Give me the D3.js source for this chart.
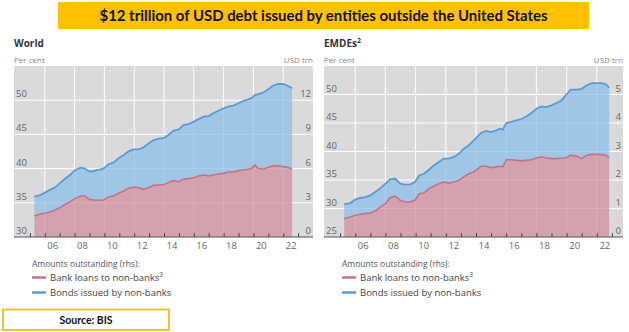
<!DOCTYPE html>
<html><head><meta charset="utf-8">
<script src="https://cdn.jsdelivr.net/npm/d3@7"></script>
<style>body{margin:0;background:#fff;} svg{display:block;}</style>
</head><body>
<script>
const titleText = "$12 trillion of USD debt issued by entities outside the United States";
const sourceText = "Source: BIS";
const legendHeader = "Amounts outstanding (rhs):";
const seriesNames = ["Bank loans to non-banks", "Bonds issued by non-banks"];
const seriesSup = ["3", ""];

// World (USD trn)
const worldDates = [2005.3,2005.7,2006.0,2006.4,2006.7,2007.05,2007.4,2007.7,2008.05,2008.4,2008.7,2009.0,2009.3,2009.6,2009.95,2010.3,2010.6,2010.95,2011.3,2011.6,2011.95,2012.3,2012.6,2012.95,2013.3,2013.6,2014.0,2014.3,2014.65,2015.0,2015.3,2015.65,2016.0,2016.3,2016.65,2017.0,2017.3,2017.65,2018.0,2018.3,2018.65,2019.0,2019.3,2019.65,2019.9,2020.1,2020.3,2020.65,2021.0,2021.3,2021.65,2022.0,2022.3,2022.6];
const worldLoans = [1.84,2.02,2.08,2.22,2.37,2.60,2.89,3.10,3.39,3.60,3.60,3.30,3.25,3.22,3.25,3.54,3.60,3.83,4.04,4.27,4.36,4.33,4.18,4.33,4.53,4.56,4.60,4.77,4.94,4.85,5.06,5.12,5.20,5.35,5.44,5.35,5.44,5.53,5.58,5.70,5.70,5.82,5.88,5.94,6.02,6.32,6.02,5.94,6.11,6.23,6.26,6.17,6.11,5.96];
const worldBonds = [1.70,1.66,1.81,1.96,1.99,2.17,2.26,2.34,2.49,2.48,2.40,2.43,2.54,2.66,2.77,2.86,2.92,3.07,3.15,3.22,3.33,3.36,3.66,3.87,3.97,4.04,4.10,4.18,4.39,4.59,4.76,4.79,4.92,4.97,5.12,5.26,5.41,5.55,5.71,5.73,5.82,5.91,6.05,6.14,6.18,6.14,6.49,6.72,6.84,7.04,7.16,7.25,7.16,7.08];

// EMDEs (USD trn)
const emdeDates = [2005.27,2005.67,2006.0,2006.33,2006.66,2007.0,2007.32,2007.65,2008.0,2008.3,2008.64,2008.97,2009.3,2009.63,2009.96,2010.24,2010.55,2010.88,2011.2,2011.54,2011.87,2012.2,2012.53,2012.86,2013.19,2013.52,2013.85,2014.33,2014.67,2015.0,2015.33,2015.6,2015.78,2016.0,2016.33,2016.67,2017.0,2017.33,2017.67,2018.0,2018.33,2018.67,2019.0,2019.33,2019.67,2020.0,2020.27,2020.67,2021.0,2021.33,2021.67,2022.0,2022.33,2022.6,2022.82];
const emdeLoans = [0.64,0.70,0.76,0.80,0.82,0.84,0.91,1.05,1.17,1.38,1.43,1.29,1.23,1.23,1.29,1.52,1.54,1.70,1.78,1.87,1.93,1.89,1.93,1.99,2.11,2.22,2.28,2.48,2.48,2.43,2.46,2.48,2.46,2.71,2.71,2.69,2.67,2.69,2.71,2.77,2.81,2.77,2.75,2.75,2.77,2.78,2.87,2.83,2.75,2.87,2.90,2.90,2.89,2.87,2.78];
const emdeBonds = [0.51,0.49,0.55,0.57,0.58,0.62,0.67,0.65,0.70,0.64,0.62,0.58,0.61,0.62,0.64,0.64,0.68,0.66,0.73,0.76,0.82,0.86,0.88,0.93,0.99,1.00,1.11,1.17,1.24,1.25,1.28,1.32,1.31,1.29,1.33,1.40,1.47,1.54,1.64,1.73,1.77,1.79,1.87,1.95,2.03,2.23,2.30,2.34,2.45,2.45,2.50,2.50,2.51,2.49,2.46];

const worldLeftTicks = [30,35,40,45,50];
const worldRightTicks = [0,3,6,9,12];
const emdeLeftTicks = [25,30,35,40,45,50];
const emdeRightTicks = [0,1,2,3,4,5];
const yearTicks = [2005,2006,2007,2008,2009,2010,2011,2012,2013,2014,2015,2016,2017,2018,2019,2020,2021,2022,2023];
const yearLabels = [2006,2008,2010,2012,2014,2016,2018,2020,2022];

const W = 629, H = 332;
const svg = d3.select("body").append("svg").attr("width", W).attr("height", H);
svg.append("rect").attr("width", W).attr("height", H).attr("fill", "#fff");

// Title banner
svg.append("rect").attr("x", 58).attr("y", 2).attr("width", 531).attr("height", 27).attr("fill", "#FFC000");
svg.append("text").attr("x", 323.5).attr("y", 21).attr("text-anchor", "middle")
  .attr("font-family", "Lato, 'Liberation Sans', sans-serif").attr("font-weight", "bold")
  .attr("font-size", 15).attr("fill", "#111")
  .attr("textLength", 448).attr("lengthAdjust", "spacingAndGlyphs").text(titleText);

const colors = {
  bg: "#dadada", loanFill: "rgba(209,140,158,0.72)", loanLine: "#c27488",
  bondFill: "rgba(138,188,232,0.72)", bondLine: "#5b9bd5", tick: "#666", axis: "#555"
};
const FONT = "'Open Sans', 'DejaVu Sans', sans-serif";

const panels = [
  { name: "World", sup: "", dates: worldDates, loans: worldLoans, bonds: worldBonds,
    left: 14, right: 313, xRange: [15, 313], lDom: [30, 55], rDom: [0, 15],
    lTicks: worldLeftTicks, rTicks: worldRightTicks },
  { name: "EMDEs", sup: "2", dates: emdeDates, loans: emdeLoans, bonds: emdeBonds,
    left: 324, right: 623, xRange: [325, 627], lDom: [25, 55], rDom: [0, 6],
    lTicks: emdeLeftTicks, rTicks: emdeRightTicks }
];
const plotTop = 66, plotBottom = 237;

panels.forEach((p, pi) => {
  const g = svg.append("g");
  const x = d3.scaleLinear().domain([2004, 2024]).range(p.xRange);
  const yL = d3.scaleLinear().domain(p.lDom).range([plotBottom, plotTop]);
  const yR = d3.scaleLinear().domain(p.rDom).range([plotBottom, plotTop]);

  const t = g.append("text").attr("x", p.left).attr("y", 47).attr("font-family", FONT)
    .attr("font-weight", "bold").attr("font-size", 10).attr("fill", "#333").text(p.name);
  if (p.sup) t.append("tspan").attr("dy", -4).attr("font-size", 7).text(p.sup);

  g.append("text").attr("x", p.left).attr("y", 63).attr("font-family", FONT)
    .attr("font-size", 8).attr("fill", "#888").text("Per cent");
  g.append("text").attr("x", p.right).attr("y", 63).attr("text-anchor", "end").attr("font-family", FONT)
    .attr("font-size", 8).attr("fill", "#888").text("USD trn");

  const cid = "clip" + pi;
  g.append("clipPath").attr("id", cid).append("rect")
    .attr("x", p.left).attr("y", plotTop).attr("width", p.right - p.left).attr("height", plotBottom - plotTop);

  g.append("rect").attr("x", p.left).attr("y", plotTop).attr("width", p.right - p.left)
    .attr("height", plotBottom - plotTop).attr("fill", colors.bg);

  const grid = g.append("g").attr("clip-path", `url(#${cid})`);
  grid.selectAll("line.h").data(p.lTicks.slice(1)).join("line")
    .attr("x1", p.left).attr("x2", p.right).attr("y1", d => yL(d)).attr("y2", d => yL(d))
    .attr("stroke", "#fff").attr("stroke-width", 1);
  grid.selectAll("line.v").data(yearLabels).join("line")
    .attr("x1", d => x(d)).attr("x2", d => x(d)).attr("y1", plotTop).attr("y2", plotBottom)
    .attr("stroke", "#fff").attr("stroke-width", 1);

  const rows = p.dates.map((d, i) => ({ date: d, loans: p.loans[i], bonds: p.bonds[i] }));
  const stack = d3.stack().keys(["loans", "bonds"])(rows);
  const area = d3.area().x(d => x(d.data.date)).y0(d => yR(d[0])).y1(d => yR(d[1]));
  const line = d3.line().x(d => x(d.data.date)).y(d => yR(d[1]));

  const plot = g.append("g").attr("clip-path", `url(#${cid})`);
  plot.append("path").datum(stack[0]).attr("d", area).attr("fill", colors.loanFill);
  plot.append("path").datum(stack[1]).attr("d", area).attr("fill", colors.bondFill);
  plot.append("path").datum(stack[0]).attr("d", line).attr("fill", "none")
    .attr("stroke", colors.loanLine).attr("stroke-width", 1.6);
  plot.append("path").datum(stack[1]).attr("d", line).attr("fill", "none")
    .attr("stroke", colors.bondLine).attr("stroke-width", 1.8);

  const ax = g.append("g").attr("transform", `translate(0,${plotBottom})`)
    .call(d3.axisBottom(x).tickValues(yearTicks.filter(v => x(v) < p.right)).tickSizeInner(-4).tickSizeOuter(0).tickFormat(""));
  ax.select(".domain").attr("stroke", colors.axis).attr("d", `M${p.left},0H${p.right}`);
  ax.selectAll(".tick line").attr("stroke", "#444");

  const lab = g.append("g").attr("transform", `translate(0,${plotBottom})`)
    .call(d3.axisBottom(x).tickValues(yearLabels.map(v => v + 0.5)).tickSize(0)
      .tickFormat(v => String(Math.floor(v) % 100).padStart(2, "0")));
  lab.select(".domain").remove();
  lab.selectAll("text").attr("font-family", FONT).attr("font-size", 9.5).attr("fill", colors.tick)
    .attr("dy", null).attr("y", 12);

  g.selectAll("text.l").data(p.lTicks).join("text").attr("class", "l")
    .attr("x", p.left + 2).attr("y", d => yL(d) - 3)
    .attr("font-family", FONT).attr("font-size", 9.5).attr("fill", colors.tick).text(d => d);
  g.selectAll("text.r").data(p.rTicks).join("text").attr("class", "r")
    .attr("x", p.right - 2).attr("y", d => yR(d) - 3).attr("text-anchor", "end")
    .attr("font-family", FONT).attr("font-size", 9.5).attr("fill", colors.tick).text(d => d);

  const lx = p.left + 18;
  g.append("text").attr("x", lx).attr("y", 267).attr("font-family", FONT).attr("font-size", 8.5)
    .attr("fill", "#555").text(legendHeader);
  const swatch = [colors.loanLine, colors.bondLine];
  seriesNames.forEach((n, i) => {
    const yy = 277.5 + i * 15;
    g.append("line").attr("x1", lx).attr("x2", lx + 14).attr("y1", yy).attr("y2", yy)
      .attr("stroke", swatch[i]).attr("stroke-width", 2.5);
    const tt = g.append("text").attr("x", lx + 18).attr("y", yy + 3.7).attr("font-family", FONT)
      .attr("font-size", 9.5).attr("fill", "#444").text(n);
    if (seriesSup[i]) tt.append("tspan").attr("dy", -4).attr("font-size", 6.5).text(seriesSup[i]);
  });
});

svg.append("rect").attr("x", 3).attr("y", 309.5).attr("width", 166).attr("height", 20.5)
  .attr("fill", "#fff").attr("stroke", "#F2C12E").attr("stroke-width", 2);
svg.append("text").attr("x", 86).attr("y", 323.5).attr("text-anchor", "middle")
  .attr("font-family", "Lato, 'Liberation Sans', sans-serif").attr("font-weight", "bold")
  .attr("font-size", 10.5).attr("fill", "#111").text(sourceText);
</script>
</body></html>
